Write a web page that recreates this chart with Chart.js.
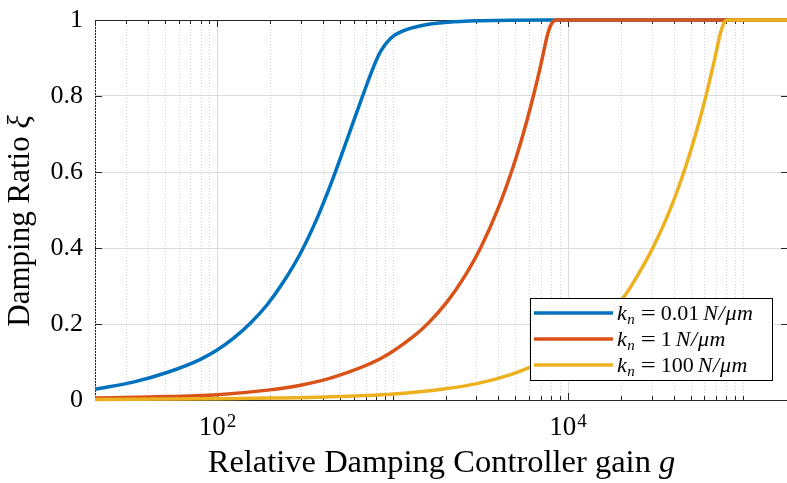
<!DOCTYPE html>
<html><head><meta charset="utf-8">
<script src="https://cdn.jsdelivr.net/npm/chart.js@4.4.1/dist/chart.umd.min.js"></script>
<style>
html,body{margin:0;padding:0;overflow:hidden;background:#fff;width:787px;height:483px}
#wrap{position:relative;width:790px;height:483px}
canvas{display:block}
</style></head>
<body><div id="wrap"><canvas id="c" width="790" height="483"></canvas></div>
<script>
// ---------- data ----------
const seriesLabels = ['k_n = 0.01 N/μm', 'k_n = 1 N/μm', 'k_n = 100 N/μm'];
const kValues = ['0.01', '1', '100'];
const seriesColors = ['#0072BD', '#D95319', '#EDB120'];

const gBlue    = [20, 33, 52, 80, 100, 123, 154, 193, 238, 298, 373, 460, 553, 683, 779, 854, 974, 1156, 1445, 2062, 3184, 7686, 180000];
const zetaBlue = [0.028, 0.047, 0.073, 0.107, 0.132, 0.162, 0.202, 0.252, 0.311, 0.387, 0.482, 0.588, 0.690, 0.808, 0.878, 0.918, 0.952, 0.972, 0.985, 0.994, 0.998, 1.0, 1.0];

const gRed    = [20, 41, 100, 193, 298, 460, 854, 1318, 1585, 2062, 2545, 3184, 3981, 4850, 5534, 6310, 7012, 7686, 8208, 8651, 180000];
const zetaRed = [0.005, 0.008, 0.014, 0.026, 0.039, 0.060, 0.109, 0.168, 0.201, 0.261, 0.322, 0.402, 0.503, 0.612, 0.698, 0.796, 0.884, 0.966, 0.996, 1.0, 1.0];

const gYellow    = [20, 100, 204, 420, 1013, 1956, 3020, 4663, 6146, 8651, 13360, 16060, 20890, 25120, 30200, 37770, 46730, 54590, 61460, 68290, 74870, 78900, 82090, 180000];
const zetaYellow = [0.0015, 0.003, 0.005, 0.008, 0.016, 0.029, 0.043, 0.066, 0.087, 0.118, 0.178, 0.213, 0.272, 0.330, 0.397, 0.495, 0.612, 0.714, 0.803, 0.892, 0.973, 0.997, 1.0, 1.0];

const yTickValues = [0, 0.2, 0.4, 0.6, 0.8, 1];
const yTickLabels = ['0', '0.2', '0.4', '0.6', '0.8', '1'];
const xMajorTicks = [100, 10000];
const xMajorBase = ['10', '10'];
const xMajorExp = ['2', '4'];
const xMinorTicks = [20, 30, 40, 50, 60, 70, 80, 90, 200, 300, 400, 500, 600, 700, 800, 900,
  1000, 2000, 3000, 4000, 5000, 6000, 7000, 8000, 9000, 20000, 30000, 40000, 50000, 60000, 70000, 80000, 90000, 100000];
const xTitleParts = ['Relative Damping Controller gain ', 'g'];
const yTitleParts = ['Damping Ratio ', 'ξ'];
const xRange = [20, 180000];
const yRange = [0, 1];

// ---------- drawing ----------
const SERIF = '"Liberation Serif", "Times New Roman", serif';
const AXIS = '#262626';
function pts(xs, ys) { return xs.map((x, i) => ({ x: x, y: ys[i] })); }

function drawMathLabel(ctx, x, y, k) {
  const size = 22;
  const it = 'italic ' + size + 'px ' + SERIF, rm = size + 'px ' + SERIF;
  const sub = 'italic 15px ' + SERIF;
  let cx = x;
  const put = (t, font, dy, extra) => {
    ctx.font = font; ctx.fillText(t, cx, y + dy); cx += ctx.measureText(t).width + extra;
  };
  ctx.textAlign = 'left'; ctx.textBaseline = 'alphabetic'; ctx.fillStyle = '#000';
  put('k', it, 0, 0.5);
  put('n', sub, 4, 6);
  ctx.font = rm; const we = ctx.measureText('=').width;
  ctx.save(); ctx.translate(cx, 0); ctx.scale(15 / we, 1); ctx.fillText('=', 0, y); ctx.restore();
  cx += 15 + 5;
  put(k, rm, 0, 4);
  put('N', it, 0, 0.5);
  put('/', it, 0, 1);
  put('μ', it, 0, 0.5);
  put('m', it, 0, 0);
}

const framePlugin = {
  id: 'frame',
  beforeDatasetsDraw(chart) {
    const ctx = chart.ctx, a = chart.chartArea, xs = chart.scales.x, ys = chart.scales.y;
    ctx.save();
    ctx.strokeStyle = '#d2d2d2'; ctx.lineWidth = 1; ctx.setLineDash([1, 2]);
    xMinorTicks.forEach(v => {
      const px = Math.round(xs.getPixelForValue(v)) + 0.5;
      ctx.beginPath(); ctx.moveTo(px, a.top); ctx.lineTo(px, a.bottom); ctx.stroke();
    });
    ctx.setLineDash([]);
    ctx.strokeStyle = '#dcdcdc';
    xMajorTicks.forEach(v => {
      const px = Math.round(xs.getPixelForValue(v)) + 0.5;
      ctx.beginPath(); ctx.moveTo(px, a.top); ctx.lineTo(px, a.bottom); ctx.stroke();
    });
    ctx.strokeStyle = AXIS;
    ctx.beginPath(); ctx.moveTo(a.left, a.top + 0.5); ctx.lineTo(a.right, a.top + 0.5); ctx.stroke();
    ctx.beginPath(); ctx.moveTo(a.right - 0.5, a.top); ctx.lineTo(a.right - 0.5, a.bottom); ctx.stroke();
    const tick = (v, len) => {
      const px = Math.round(xs.getPixelForValue(v)) + 0.5;
      ctx.beginPath(); ctx.moveTo(px, a.bottom); ctx.lineTo(px, a.bottom - len);
      ctx.moveTo(px, a.top); ctx.lineTo(px, a.top + len); ctx.stroke();
    };
    xMinorTicks.forEach(v => tick(v, 4));
    xMajorTicks.forEach(v => tick(v, 7));
    yTickValues.forEach(v => {
      const py = Math.round(ys.getPixelForValue(v)) + 0.5;
      ctx.beginPath(); ctx.moveTo(a.left, py); ctx.lineTo(a.left + 7, py);
      ctx.moveTo(a.right, py); ctx.lineTo(a.right - 7, py); ctx.stroke();
    });
    ctx.restore();
  },
  afterDatasetsDraw(chart) {
    const ctx = chart.ctx, a = chart.chartArea, xs = chart.scales.x;
    ctx.save();
    xMajorTicks.forEach((v, i) => {
      const px = xs.getPixelForValue(v);
      ctx.font = '27px ' + SERIF; const wb = ctx.measureText(xMajorBase[i]).width;
      ctx.font = '19px ' + SERIF; const we = ctx.measureText(xMajorExp[i]).width;
      const x0 = px - (wb + we + 1) / 2;
      ctx.fillStyle = '#000'; ctx.textAlign = 'left'; ctx.textBaseline = 'alphabetic';
      ctx.font = '27px ' + SERIF; ctx.fillText(xMajorBase[i], x0, 435);
      ctx.font = '19px ' + SERIF; ctx.fillText(xMajorExp[i], x0 + wb + 1, 427);
    });
    ctx.font = '32.5px ' + SERIF; const w1 = ctx.measureText(xTitleParts[0]).width;
    ctx.font = 'italic 32.5px ' + SERIF; const w2 = ctx.measureText(xTitleParts[1]).width;
    const cxT = (a.left + a.right) / 2, x0 = cxT - (w1 + w2) / 2;
    ctx.font = '32.5px ' + SERIF; ctx.fillText(xTitleParts[0], x0, 472);
    ctx.font = 'italic 32.5px ' + SERIF; ctx.fillText(xTitleParts[1], x0 + w1, 472);
    ctx.save();
    ctx.translate(29, 221); ctx.rotate(-Math.PI / 2);
    ctx.font = '31px ' + SERIF; const v1 = ctx.measureText(yTitleParts[0]).width;
    ctx.font = 'italic 31px ' + SERIF; const v2 = ctx.measureText(yTitleParts[1]).width;
    ctx.font = '31px ' + SERIF; ctx.fillText(yTitleParts[0], -(v1 + v2) / 2, 0);
    ctx.font = 'italic 31px ' + SERIF; ctx.fillText(yTitleParts[1], -(v1 + v2) / 2 + v1, 0);
    ctx.restore();
    const L = 530.5, T = 298.5, R = 772.5, B = 380.5;
    ctx.fillStyle = '#fff'; ctx.fillRect(L, T, R - L, B - T);
    ctx.strokeStyle = '#000'; ctx.lineWidth = 1; ctx.strokeRect(L, T, R - L, B - T);
    chart.data.datasets.forEach((ds, i) => {
      const yy = 313 + i * 26;
      ctx.strokeStyle = ds.borderColor; ctx.lineWidth = 3.5; ctx.lineCap = 'butt';
      ctx.beginPath(); ctx.moveTo(534, yy); ctx.lineTo(613, yy); ctx.stroke();
      drawMathLabel(ctx, 617, yy + 6.5, kValues[i]);
    });
    ctx.restore();
  }
};

const mk = (i, xs, ys, order) => ({
  label: seriesLabels[i], data: pts(xs, ys), borderColor: seriesColors[i], backgroundColor: seriesColors[i],
  borderWidth: 3.5, pointRadius: 0, fill: false, cubicInterpolationMode: 'monotone', order: order,
  clip: { left: 0, top: 5, right: 5, bottom: 5 }
});

new Chart(document.getElementById('c'), {
  type: 'line',
  data: { datasets: [mk(0, gBlue, zetaBlue, 2), mk(1, gRed, zetaRed, 1), mk(2, gYellow, zetaYellow, 0)] },
  options: {
    responsive: false, animation: false, devicePixelRatio: 1,
    layout: { padding: { left: 0, top: 20, right: 2, bottom: 0 } },
    plugins: { legend: { display: false }, tooltip: { enabled: false } },
    scales: {
      x: {
        type: 'logarithmic', min: xRange[0], max: xRange[1], bounds: 'data',
        afterFit: s => { s.height = 83; s.paddingLeft = 0; s.paddingRight = 0; },
        grid: { display: false, drawTicks: false },
        border: { display: true, color: AXIS, width: 1 },
        ticks: { display: false }
      },
      y: {
        min: yRange[0], max: yRange[1],
        afterBuildTicks: s => { s.ticks = yTickValues.map(v => ({ value: v })); },
        afterFit: s => { s.width = 95; s.paddingTop = 0; s.paddingBottom = 0; },
        grid: { color: '#dcdcdc', lineWidth: 1, drawTicks: false },
        border: { display: true, color: AXIS, width: 1 },
        ticks: { font: { family: SERIF, size: 26 }, color: '#000', padding: 12,
                 callback: (v, i) => yTickLabels[i] }
      }
    }
  },
  plugins: [framePlugin]
});
</script>
</body></html>
